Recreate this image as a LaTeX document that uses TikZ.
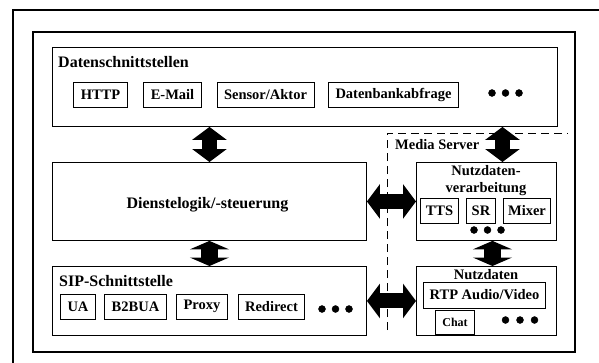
\documentclass[tikz,border=0pt]{standalone}
\usepackage{fontspec}
\setmainfont{Liberation Serif}
\usetikzlibrary{arrows.meta}
\begin{document}
\begin{tikzpicture}[x=1pt,y=-1pt, line join=miter, font=\bfseries\fontsize{14.5}{17}\selectfont,
	box/.style={draw, line width=0.9pt, anchor=north west, inner sep=0pt},
	sub/.style={draw, line width=0.9pt, inner xsep=7pt, inner ysep=0pt, minimum height=25pt},
	title/.style={inner sep=0pt, font=\bfseries\fontsize{16}{19}\selectfont},
	bigarrow/.style={line width=15pt, {Triangle[width=34pt,length=13pt]}-{Triangle[width=34pt,length=13pt]}},
	shortarrow/.style={line width=17pt, {Triangle[width=39pt,length=8.5pt]}-{Triangle[width=39pt,length=8.5pt]}}]
	\def\W{599} \def\H{362}
	\useasboundingbox (0,0) rectangle (\W,\H);
	\clip (0,0) rectangle (\W,\H);
	% Rahmen
	\draw[line width=1.6pt] (13,10) rectangle (615,380);
	\draw[line width=1.6pt] (33,32) rectangle (575,352);
	% Bloecke
	\node[box, minimum width=505pt, minimum height=79pt] (daten) at (52,47) {};
	\node[box, minimum width=314pt, minimum height=78pt] (dienst) at (52,162) {};
	\node[box, minimum width=314pt, minimum height=69pt] (sip) at (52,266) {};
	\node[box, minimum width=140pt, minimum height=78pt] (verarb) at (416,162) {};
	\node[box, minimum width=140pt, minimum height=69pt] (nutz) at (416,266) {};
	% Datenschnittstellen
	\node[title, anchor=base west] (datentitel) at (58,67) {Datenschnittstellen};
	\node[sub] (http) at (100.5,94.5) {HTTP};
	\node[sub] (mail) at (172.5,94.5) {E-Mail};
	\node[sub] (sensor) at (265.5,94.5) {Sensor/Aktor};
	\node[sub] (dbabfrage) at (393.5,94.5) {Datenbankabfrage};
	\draw[fill=black] (492,93) circle(3.5pt) (505.5,93) circle(3.5pt) (519,93) circle(3.5pt);
	% Dienstelogik
	\node[title, anchor=base] (diensttitel) at (207.5,208) {Dienstelogik/-steuerung};
	% SIP
	\node[title, anchor=base west] (siptitel) at (59,286) {SIP-Schnittstelle};
	\node[sub] (ua) at (78,306.5) {UA};
	\node[sub] (b2bua) at (135.5,306.5) {B2BUA};
	\node[sub] (proxy) at (202,306.5) {Proxy};
	\node[sub] (redirect) at (271.5,306.5) {Redirect};
	\draw[fill=black] (322,309) circle(3.5pt) (335.5,309) circle(3.5pt) (349,309) circle(3.5pt);
	% Media Server
	\draw[line width=0.9pt, dash pattern=on 8pt off 5pt] (387,330) -- (387,133) -- (568,133);
	\node[inner sep=0pt, anchor=base west] (mstitel) at (395,149) {Media Server};
	\node[inner sep=0pt, anchor=north, align=center] (verarbtitel) at (486,165) {Nutzdaten-\\verarbeitung};
	\node[sub, inner xsep=5pt] (tts) at (439.5,210.5) {TTS};
	\node[sub, inner xsep=5pt] (sr) at (481,210.5) {SR};
	\node[sub, inner xsep=5pt] (mixer) at (527,210.5) {Mixer};
	\draw[fill=black] (474,230) circle(3.5pt) (487.5,230) circle(3.5pt) (501,230) circle(3.5pt);
	\node[inner sep=0pt, anchor=base] (nutztitel) at (486,279) {Nutzdaten};
	\node[sub, inner xsep=6pt, minimum height=26pt] (rtp) at (484.5,295) {RTP Audio/Video};
	\node[sub, minimum height=24pt, font=\bfseries\fontsize{12}{14}\selectfont] (chat) at (455,322) {Chat};
	\draw[fill=black] (505.5,320) circle(3.5pt) (520,320) circle(3.5pt) (534.5,320) circle(3.5pt);
	% Pfeile
	\draw[bigarrow] (daten.south -| dienst.north) -- (dienst.north);
	\draw[shortarrow] (dienst.south) -- (sip.north);
	\draw[bigarrow] ([xshift=16pt]verarb.north |- daten.south) -- ([xshift=16pt]verarb.north);
	\draw[shortarrow] ([xshift=6pt]verarb.south) -- ([xshift=6pt]nutz.north);
	\draw[bigarrow] (dienst.east) -- (verarb.west);
	\draw[bigarrow] (sip.east) -- (nutz.west);
\end{tikzpicture}
\end{document}
